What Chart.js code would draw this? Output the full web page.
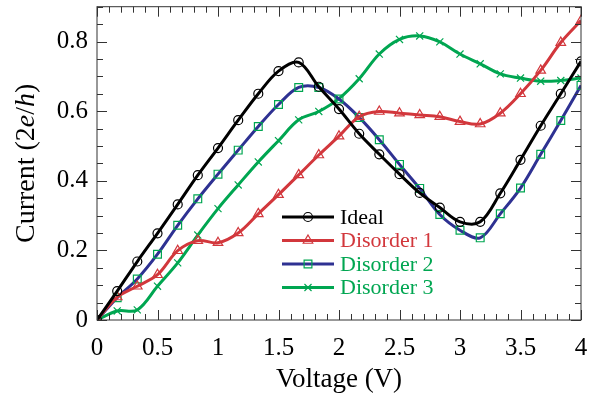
<!DOCTYPE html>
<html lang="en">
<head>
  <meta charset="UTF-8">
  <title>Current vs Voltage</title>
  <script src="https://cdn.jsdelivr.net/npm/chart.js"></script>
  <style>
    html, body { margin: 0; padding: 0; background: #fff; }
    #wrap { width: 597px; height: 400px; position: relative; }
  </style>
</head>
<body>
  <div id="wrap"><canvas id="ivChart"></canvas></div>

  <script>
    // sample voltages (V), one marker each
    const voltage = [0, 0.167, 0.333, 0.5, 0.667, 0.833, 1, 1.167, 1.333, 1.5, 1.667, 1.833, 2,
                     2.167, 2.333, 2.5, 2.667, 2.833, 3, 3.167, 3.333, 3.5, 3.667, 3.833, 4];

    // current in units of 2e/h
    const ideal     = [0, 0.083, 0.168, 0.249, 0.332, 0.416, 0.494, 0.574, 0.650, 0.715, 0.740, 0.670, 0.606,
                       0.535, 0.476, 0.419, 0.365, 0.323, 0.282, 0.282, 0.364, 0.460, 0.558, 0.650, 0.743];
    const disorder1 = [0, 0.066, 0.097, 0.130, 0.199, 0.228, 0.222, 0.250, 0.305, 0.360, 0.417, 0.474, 0.528,
                       0.584, 0.599, 0.594, 0.589, 0.584, 0.570, 0.563, 0.594, 0.650, 0.717, 0.797, 0.860];
    const disorder2 = [0, 0.064, 0.118, 0.189, 0.272, 0.348, 0.419, 0.488, 0.556, 0.619, 0.668, 0.668, 0.635,
                       0.582, 0.518, 0.447, 0.378, 0.303, 0.258, 0.236, 0.305, 0.379, 0.476, 0.573, 0.674];
    const disorder3 = [0, 0.026, 0.029, 0.097, 0.164, 0.244, 0.320, 0.388, 0.454, 0.515, 0.575, 0.599, 0.636,
                       0.693, 0.764, 0.806, 0.816, 0.799, 0.764, 0.736, 0.707, 0.695, 0.686, 0.688, 0.695];

    const seriesNames = ['Ideal', 'Disorder 1', 'Disorder 2', 'Disorder 3'];
    const xTicks = [0, 0.5, 1, 1.5, 2, 2.5, 3, 3.5, 4];
    const yTicks = [0, 0.2, 0.4, 0.6, 0.8];

    const RED = '#d2373c', BLUE = '#2e3192', GREEN = '#00a651';
    const SERIF = '"Liberation Serif"';

    function pts(ys) { return ys.map((y, i) => ({ x: voltage[i], y: y })); }

    const styles = [
      { line: '#000', mark: '#000', text: '#000', point: 'circle', r: 4.5 },
      { line: RED, mark: RED, text: RED, point: 'triangle', r: 5.5 },
      { line: BLUE, mark: GREEN, text: GREEN, point: 'rect', r: 5.5 },
      { line: GREEN, mark: GREEN, text: GREEN, point: 'crossRot', r: 5 }
    ];
    const allData = [ideal, disorder1, disorder2, disorder3];

    const datasets = allData.map((d, i) => ({
      label: seriesNames[i],
      data: pts(d),
      borderColor: styles[i].line,
      borderWidth: 3,
      tension: 0.35,
      pointStyle: styles[i].point,
      pointRadius: styles[i].r,
      pointBorderColor: styles[i].mark,
      pointBorderWidth: 1.2,
      pointBackgroundColor: 'rgba(0,0,0,0)'
    }));

    // frame, inward ticks on all four sides, titles and legend
    const framePlugin = {
      id: 'frame',
      afterDraw(chart) {
        const ctx = chart.ctx, a = chart.chartArea;
        const xs = chart.scales.x, ys = chart.scales.y;
        ctx.save();
        ctx.strokeStyle = '#333';
        ctx.lineWidth = 1;
        ctx.strokeRect(a.left, a.top, a.right - a.left, a.bottom - a.top);

        ctx.beginPath();
        for (let k = 0; k <= 40; k++) {
          const v = k / 10;
          const len = (k % 5 === 0) ? 10 : 6;
          const px = Math.round(xs.getPixelForValue(v)) + 0.5;
          ctx.moveTo(px, a.bottom); ctx.lineTo(px, a.bottom - len);
          ctx.moveTo(px, a.top); ctx.lineTo(px, a.top + len);
        }
        for (let k = 0; k <= 18; k++) {
          const v = k * 0.05;
          const len = (k % 4 === 0) ? 10 : 6;
          const py = Math.round(ys.getPixelForValue(v)) + 0.5;
          ctx.moveTo(a.left, py); ctx.lineTo(a.left + len, py);
          ctx.moveTo(a.right, py); ctx.lineTo(a.right - len, py);
        }
        ctx.stroke();

        // x title
        ctx.fillStyle = '#000';
        ctx.font = '27px ' + SERIF;
        ctx.textAlign = 'center';
        ctx.textBaseline = 'middle';
        ctx.fillText('Voltage (V)', (a.left + a.right) / 2, 380);

        // y title with italic e and h
        const parts = [['Current (2', false], ['e', true], ['/', false], ['h', true], [')', false]];
        const fontOf = it => (it ? 'italic ' : '') + '28px ' + SERIF;
        let total = 0;
        parts.forEach(p => { ctx.font = fontOf(p[1]); total += ctx.measureText(p[0]).width; });
        ctx.translate(27, (a.top + a.bottom) / 2);
        ctx.rotate(-Math.PI / 2);
        ctx.textAlign = 'left';
        let cx = -total / 2;
        parts.forEach(p => {
          ctx.font = fontOf(p[1]);
          ctx.fillText(p[0], cx, 0);
          cx += ctx.measureText(p[0]).width;
        });
        ctx.restore();

        // legend
        ctx.save();
        const rows = [217, 240.5, 264, 287.5];
        seriesNames.forEach((name, i) => {
          const y = rows[i];
          ctx.strokeStyle = styles[i].line;
          ctx.lineWidth = 3;
          ctx.beginPath();
          ctx.moveTo(282, y); ctx.lineTo(334, y);
          ctx.stroke();
          ctx.strokeStyle = styles[i].mark;
          ctx.fillStyle = 'rgba(0,0,0,0)';
          ctx.lineWidth = 1.2;
          Chart.helpers.drawPoint(ctx, { pointStyle: styles[i].point, radius: styles[i].r, borderWidth: 1.2, rotation: 0 }, 308, y);
          ctx.fillStyle = styles[i].text;
          ctx.font = '22px ' + SERIF;
          ctx.textAlign = 'left';
          ctx.textBaseline = 'middle';
          ctx.fillText(name, 340, y + 1);
        });
        ctx.restore();
      }
    };

    new Chart(document.getElementById('ivChart'), {
      type: 'line',
      data: { datasets: datasets },
      options: {
        responsive: true,
        maintainAspectRatio: false,
        animation: false,
        layout: { padding: { top: 4, right: 16, left: 0, bottom: 0 } },
        plugins: { legend: { display: false }, tooltip: { enabled: false } },
        scales: {
          x: {
            type: 'linear', min: 0, max: 4,
            afterBuildTicks: s => { s.ticks = xTicks.map(v => ({ value: v })); },
            afterFit: s => { s.height = 80; s.paddingLeft = 0; s.paddingRight = 0; },
            grid: { display: false, drawTicks: false },
            border: { display: false },
            ticks: { color: '#000', padding: 13, maxRotation: 0, font: { family: SERIF, size: 25 },
                     callback: v => String(v) }
          },
          y: {
            min: 0, max: 0.9,
            afterBuildTicks: s => { s.ticks = yTicks.map(v => ({ value: v })); },
            afterFit: s => { s.width = 97; s.paddingTop = 0; s.paddingBottom = 0; },
            grid: { display: false, drawTicks: false },
            border: { display: false },
            ticks: { color: '#000', padding: 9, font: { family: SERIF, size: 25 },
                     callback: v => String(Math.round(v * 10) / 10) }
          }
        }
      },
      plugins: [framePlugin]
    });
  </script>
</body>
</html>
